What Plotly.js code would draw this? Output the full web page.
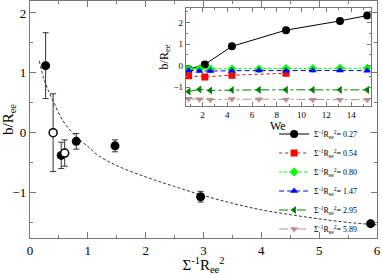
<!DOCTYPE html>
<html><head><meta charset="utf-8">
<script src="https://cdn.plot.ly/plotly-3.0.1.min.js"></script>
<style>html,body{margin:0;padding:0;background:#fff}#c{width:382px;height:275px}</style>
</head><body><div id="c"></div>
<script>
// Main panel data
const mainFilledX = [0.27, 0.54, 0.80, 1.47, 2.95, 5.89];
const mainFilledY = [1.12, -0.38, -0.145, -0.22, -1.07, -1.52];
const mainFilledErr = [0.55, 0.22, 0.13, 0.10, 0.09, 0.0];
const mainOpenX = [0.40, 0.60];
const mainOpenY = [0.0, -0.34];
const mainOpenErr = [0.65, 0.22];
const fitX = [0.16, 0.25, 0.38, 0.57, 0.79, 1.0, 1.18, 1.5, 2.0, 2.5, 3.0, 3.5, 4.0, 4.5, 5.0, 5.5, 6.0];
const fitY = [1.2, 0.87, 0.57, 0.2, -0.06, -0.23, -0.38, -0.55, -0.74, -0.9, -1.05, -1.18, -1.29, -1.37, -1.44, -1.5, -1.54];

// Inset data
const we027 = [0.87, 2.18, 4.37, 8.74, 13.1, 15.3];
const b027 = [-0.17, 0.06, 0.9, 1.65, 2.08, 2.33];
const we054 = [0.87, 2.18, 4.37, 8.74];
const b054 = [-0.47, -0.52, -0.44, -0.35];
const we080 = [0.87, 1.75, 2.62, 4.37, 6.55, 8.74, 10.9, 13.1, 15.3];
const b080 = [-0.14, -0.14, -0.16, -0.15, -0.15, -0.13, -0.13, -0.12, -0.12];
const we147 = [0.87, 1.75, 2.62, 4.37, 6.55, 8.74, 10.9, 13.1, 15.3];
const b147 = [-0.22, -0.24, -0.25, -0.23, -0.22, -0.23, -0.22, -0.22, -0.23];
const we295 = [0.87, 1.75, 2.62, 4.37, 6.55, 8.74, 10.9, 13.1, 15.3];
const b295 = [-1.2, -1.1, -1.15, -1.13, -1.12, -1.12, -1.12, -1.12, -1.12];
const we589 = [0.87, 1.75, 2.62, 4.37, 6.55, 8.74, 10.9, 13.1, 15.3];
const b589 = [-1.53, -1.56, -1.58, -1.55, -1.56, -1.57, -1.58, -1.58, -1.58];
const legendVals = ['0.27', '0.54', '0.80', '1.47', '2.95', '5.89'];

const lab = v => 'Σ<sup>-1</sup>R<sub>ee</sub><sup>2</sup>= ' + v;
const ser = "'Liberation Serif', 'Times New Roman', serif";

const traces = [
  {x: fitX, y: fitY, mode: 'lines', line: {color: '#333', width: 1, dash: '3px,2px', shape: 'spline'}, showlegend: false, xaxis: 'x', yaxis: 'y'},
  {x: mainFilledX, y: mainFilledY, mode: 'markers', marker: {color: '#000', size: 9},
   error_y: {type: 'data', array: mainFilledErr, color: '#333', thickness: 1, width: 3}, showlegend: false, xaxis: 'x', yaxis: 'y'},
  {x: mainOpenX, y: mainOpenY, mode: 'markers', marker: {color: '#fff', size: 8, line: {color: '#000', width: 1.5}},
   error_y: {type: 'data', array: mainOpenErr, color: '#333', thickness: 1, width: 3}, showlegend: false, xaxis: 'x', yaxis: 'y'},
  {x: we027, y: b027, name: lab(legendVals[0]), mode: 'lines+markers', line: {color: '#000', width: 1}, marker: {color: '#000', symbol: 'circle', size: 8}, xaxis: 'x2', yaxis: 'y2'},
  {x: we054, y: b054, name: lab(legendVals[1]), mode: 'lines+markers', line: {color: '#ff0000', width: 1, dash: 'dot'}, marker: {color: '#ff0000', symbol: 'square', size: 7}, xaxis: 'x2', yaxis: 'y2'},
  {x: we080, y: b080, name: lab(legendVals[2]), mode: 'lines+markers', line: {color: '#00ff00', width: 1, dash: '3px,2px'}, marker: {color: '#00ff00', symbol: 'diamond', size: 7}, xaxis: 'x2', yaxis: 'y2'},
  {x: we147, y: b147, name: lab(legendVals[3]), mode: 'lines+markers', line: {color: '#0000ff', width: 1, dash: '5px,3px'}, marker: {color: '#0000ff', symbol: 'triangle-up', size: 7}, xaxis: 'x2', yaxis: 'y2'},
  {x: we295, y: b295, name: lab(legendVals[4]), mode: 'lines+markers', line: {color: '#008000', width: 1, dash: 'dashdot'}, marker: {color: '#008000', symbol: 'triangle-left', size: 7}, xaxis: 'x2', yaxis: 'y2'},
  {x: we589, y: b589, name: lab(legendVals[5]), mode: 'lines+markers', line: {color: '#bc8f8f', width: 1, dash: 'dashdot'}, marker: {color: '#bc8f8f', symbol: 'triangle-down', size: 7}, xaxis: 'x2', yaxis: 'y2'}
];

const axBase = {showgrid: false, zeroline: false, showline: true, linecolor: '#777', linewidth: 1.2,
  mirror: 'allticks', ticks: 'inside', tickcolor: '#777', tickfont: {family: ser, color: '#000'}};

const layout = {
  width: 382, height: 275,
  margin: {l: 30, r: 5, t: 1, b: 37},
  paper_bgcolor: '#fff', plot_bgcolor: '#fff',
  font: {family: ser, color: '#000'},
  xaxis: Object.assign({}, axBase, {domain: [0, 1], range: [0, 6], dtick: 1, ticklen: 6, tickfont: {family: ser, size: 13, color: '#000'},
    minor: {ticks: 'inside', dtick: 0.5, ticklen: 3, tickcolor: '#777'},
    title: {text: 'Σ<sup>-1</sup>R<sub>ee</sub><sup>2</sup>', font: {family: ser, size: 15}, standoff: 4}, anchor: 'y'}),
  yaxis: Object.assign({}, axBase, {domain: [0, 1], range: [-1.76, 2.2], dtick: 1, ticklen: 6, tickfont: {family: ser, size: 13, color: '#000'},
    minor: {ticks: 'inside', dtick: 0.5, ticklen: 3, tickcolor: '#777'},
    title: {text: 'b/R<sub>ee</sub>', font: {family: ser, size: 15}, standoff: 6}, anchor: 'x'}),
  xaxis2: Object.assign({}, axBase, {domain: [0.4496, 0.9818], range: [0.66, 15.58], dtick: 2, ticklen: 4, tickfont: {family: ser, size: 9, color: '#000'},
    minor: {ticks: 'inside', dtick: 1, ticklen: 2, tickcolor: '#777'}, anchor: 'y2'}),
  yaxis2: Object.assign({}, axBase, {domain: [0.557, 0.9705], range: [-1.87, 2.68], dtick: 1, ticklen: 4, tickfont: {family: ser, size: 9, color: '#000'},
    minor: {ticks: 'inside', dtick: 0.5, ticklen: 2, tickcolor: '#777'},
    title: {text: 'b/R<sub>ee</sub>', font: {family: ser, size: 12}, standoff: 2}, anchor: 'x2'}),
  annotations: [{text: 'We', xref: 'paper', yref: 'paper', x: 0.7157, y: 0.474, xanchor: 'center', yanchor: 'middle',
    showarrow: false, borderpad: 0, font: {family: ser, size: 12, color: '#000'}}],
  legend: {x: 0.7035, y: 0.5, xanchor: 'left', yanchor: 'top', bgcolor: 'rgba(0,0,0,0)',
    font: {family: ser, size: 8, color: '#000'}, tracegroupgap: 0, itemwidth: 30},
  showlegend: true
};

Plotly.newPlot('c', traces, layout, {displayModeBar: false, staticPlot: true});
</script></body></html>
